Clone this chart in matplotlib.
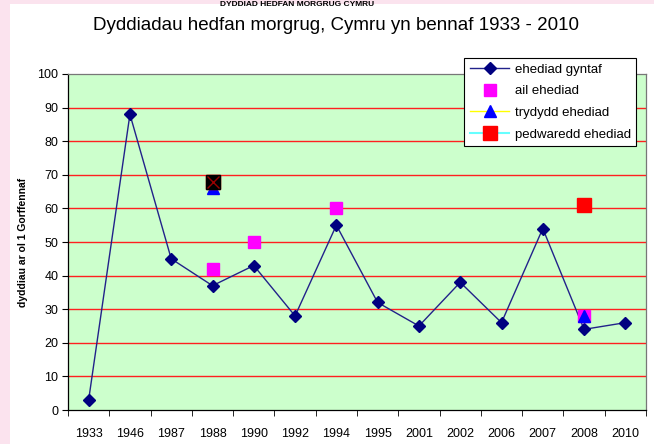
import matplotlib
matplotlib.use("Agg")
import matplotlib.pyplot as plt
from matplotlib.patches import Rectangle
from matplotlib.lines import Line2D
import numpy as np

plt.rcParams['font.family'] = ['Liberation Sans', 'DejaVu Sans']

years = ["1933", "1946", "1987", "1988", "1990", "1992", "1994", "1995",
         "2001", "2002", "2006", "2007", "2008", "2010"]
first_flight = [3, 88, 45, 37, 43, 28, 55, 32, 25, 38, 26, 54, 24, 26]
second_years = ["1988", "1990", "1994", "2008"]
second_flight = [42, 50, 60, 28]
third_years = ["1988", "2008"]
third_flight = [66, 28]
fourth_years = ["1988", "2008"]
fourth_flight = [68, 61]
series_names = ["ehediad gyntaf", "ail ehediad", "trydydd ehediad", "pedwaredd ehediad"]

W, H = 654, 444
fig = plt.figure(figsize=(W / 100, H / 100), dpi=100)
fig.patch.set_facecolor('#fbe3ee')
fig.add_artist(Rectangle((10 / W, 0), 1, 1 - 4 / H, transform=fig.transFigure,
                         facecolor='white', edgecolor='none', zorder=0))

ax = fig.add_axes([68 / W, 1 - 410 / H, (646 - 68) / W, (410 - 74) / H])
ax.set_facecolor('#ccffcc')

pos = {y: i for i, y in enumerate(years)}
x = np.arange(len(years))

ax.plot(x, first_flight, color='#22228a', lw=1.0, marker='D', markersize=6.5,
        markerfacecolor='#000080', markeredgecolor='#000080', zorder=3)
ax.plot([pos[y] for y in second_years], second_flight, ls='none', marker='s',
        markersize=9, color='#ff00ff', zorder=4)
ax.plot([pos[y] for y in third_years], third_flight, ls='none',
        marker='^', markersize=9, markerfacecolor='#0000ff',
        markeredgecolor='#0000ff', zorder=5)
ax.plot([pos[y] for y in fourth_years], fourth_flight,
        ls='none', marker='s', markersize=10.5, markerfacecolor='#ff0000',
        markeredgecolor='#ff0000', zorder=6)
# overlay marker at 1988 (black square with red cross)
ax.plot([pos["1988"]], [fourth_flight[0]], ls='none', marker='s', markersize=10.5,
        markerfacecolor='#000000', markeredgecolor='#000000', zorder=7)
ax.plot([pos["1988"]], [fourth_flight[0]], ls='none', marker='x', markersize=8,
        markeredgecolor='#990000', markeredgewidth=1, zorder=8)

ax.set_xlim(-0.5, len(years) - 0.5)
ax.set_ylim(0, 100)
ax.set_yticks(np.arange(0, 101, 10))
for v in range(10, 100, 10):
    ax.axhline(v, color='#ff2020', lw=1.0, zorder=1)

ax.set_xticks(x)
ax.set_xticklabels(years, fontsize=9)
ax.set_xticks(np.arange(-0.5, len(years), 1), minor=True)
ax.tick_params(axis='x', which='major', length=0, pad=13)
ax.tick_params(axis='x', which='minor', length=4, direction='out', color='black')
ax.tick_params(axis='y', length=4, direction='out', labelsize=9, pad=3)
for s in ax.spines.values():
    s.set_color('black')
    s.set_linewidth(0.9)
ax.spines['right'].set_color('#777777')
ax.spines['top'].set_color('#777777')

ax.set_ylabel('dyddiau ar ol 1 Gorffennaf', fontsize=7.5, fontweight='bold',
              labelpad=7)

fig.text(336 / W, 1 - 25 / H, 'Dyddiadau hedfan morgrug, Cymru yn bennaf 1933 - 2010',
         ha='center', va='center', fontsize=13.5)
fig.text(297 / W, 1 - 5 / H, 'DYDDIAD HEDFAN MORGRUG CYMRU', ha='center',
         va='center', fontsize=6, fontweight='bold')

handles = [
    Line2D([], [], color='#22228a', lw=1.0, marker='D', markersize=6.5,
           markerfacecolor='#000080', markeredgecolor='#000080'),
    Line2D([], [], ls='none', marker='s', markersize=9, color='#ff00ff'),
    Line2D([], [], color='#ffff00', lw=1.0, marker='^', markersize=9,
           markerfacecolor='#0000ff', markeredgecolor='#0000ff'),
    Line2D([], [], color='#66ffff', lw=1.5, marker='s', markersize=10.5,
           markerfacecolor='#ff0000', markeredgecolor='#ff0000'),
]
leg = ax.legend(handles, series_names, loc='upper right',
                bbox_to_anchor=(636 / W, 1 - 58 / H),
                bbox_transform=fig.transFigure, fontsize=9.5, frameon=True,
                fancybox=False, edgecolor='black', framealpha=1,
                handlelength=3.0, borderpad=0.4, labelspacing=0.72,
                handletextpad=0.4, borderaxespad=0)
leg.get_frame().set_linewidth(0.8)

fig.savefig('out.png', dpi=100)
